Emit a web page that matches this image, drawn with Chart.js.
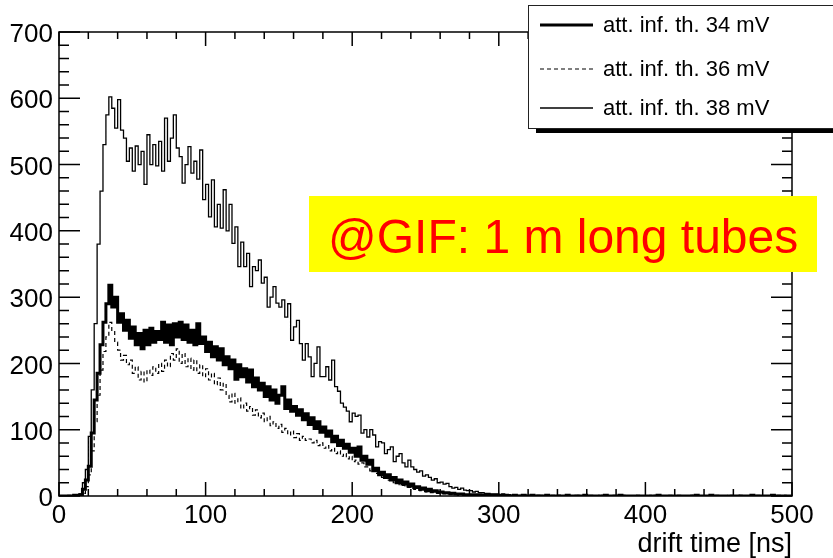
<!DOCTYPE html>
<html>
<head>
<meta charset="utf-8">
<script src="https://cdn.jsdelivr.net/npm/chart.js@4.4.1/dist/chart.umd.min.js"></script>
<style>
  body { margin: 0; background: #fff; }
  canvas { display: block; }
</style>
</head>
<body>
<canvas id="js-driftChart" width="833" height="558"></canvas>
<script>
// drift time histograms, 2 ns bins from 0 to 500 ns
const BIN_WIDTH = 2;
const X_TICKS = [0, 100, 200, 300, 400, 500];
const Y_TICKS = [0, 100, 200, 300, 400, 500, 600, 700];
const MINOR_STEP = 20;

const labels = ["att. inf. th. 34 mV", "att. inf. th. 36 mV", "att. inf. th. 38 mV"];

const counts34 = [
  0,0,0,0,0,1,1,2,10,24,
  45,95,145,185,228,262,290,318,285,300,
  262,275,250,265,238,255,228,245,222,250,
  228,253,232,248,236,262,232,258,228,260,
  240,262,236,258,232,250,228,260,230,240,
  218,232,210,225,205,222,198,210,192,205,
  176,198,180,192,172,190,165,178,160,170,
  150,165,145,160,140,152,165,132,145,128,
  135,122,130,115,124,108,118,102,112,96,
  104,90,98,82,90,76,84,72,78,66,
  72,60,74,54,60,48,54,38,42,32,
  36,28,32,24,28,20,24,18,21,15,
  18,13,14,10,12,8,10,7,8,6,
  6,5,5,4,4,3,3,3,2,2,
  2,2,1,2,1,1,1,1,0,1,
  1,0,1,0,0,1,0,0,1,0,
  0,1,0,0,0,0,1,0,0,0,
  0,0,0,1,0,0,0,0,0,1,
  0,0,0,0,0,0,1,0,0,0,
  0,1,0,0,0,0,0,0,0,0,
  0,0,0,0,1,0,0,0,0,0,
  0,0,0,0,0,0,0,1,0,0,
  0,0,1,0,0,0,0,0,0,0,
  0,0,0,0,0,0,1,0,0,0,
  0,0,0,1,0,0,0,0,0,0
];

const counts36 = [
  0,0,0,0,0,0,1,1,4,14,
  32,68,112,152,190,218,240,262,250,232,
  220,205,212,198,205,185,195,175,188,172,
  190,182,195,185,200,188,205,195,215,205,
  222,200,215,195,208,190,205,185,198,180,
  192,175,185,168,178,160,170,152,142,155,
  140,148,132,140,128,135,122,130,118,125,
  112,120,106,112,102,108,96,102,92,98,
  88,94,84,90,84,86,80,84,76,80,
  72,76,68,72,64,68,60,64,56,60,
  52,54,48,50,44,44,38,40,34,34,
  28,30,24,25,20,20,17,16,13,13,
  11,10,9,8,7,6,5,5,4,4,
  3,3,3,2,2,2,1,2,1,1,
  1,1,0,1,1,0,0,1,0,0,
  0,1,0,0,1,0,0,0,1,0,
  0,0,0,1,0,0,0,0,0,0,
  1,0,0,0,0,0,0,1,0,0,
  0,0,0,0,1,0,0,0,0,0,
  0,0,0,0,0,0,1,0,0,0,
  0,1,0,0,0,0,0,0,0,0,
  0,0,0,0,0,1,0,0,0,0,
  0,0,0,0,0,0,0,0,1,0,
  0,0,1,0,0,0,0,0,0,0,
  0,0,0,0,0,0,0,1,0,0
];

const counts38 = [
  0,0,0,1,0,1,2,3,20,40,
  90,160,260,380,460,530,575,602,585,555,
  598,552,540,505,525,490,528,500,520,470,
  545,500,530,498,535,490,570,505,540,575,
  525,512,472,500,527,487,505,478,522,447,
  470,421,477,406,440,404,462,400,440,381,
  406,346,383,346,366,316,346,340,356,321,
  330,285,300,316,291,285,296,270,290,235,
  255,265,230,205,230,210,180,200,225,180,
  180,195,175,205,165,158,140,134,128,112,
  125,120,122,95,100,89,100,92,74,82,
  80,64,70,74,52,60,64,50,44,54,
  44,40,36,38,30,32,28,24,26,20,
  21,18,19,14,12,13,10,12,9,8,
  8,6,7,5,5,4,4,3,3,3,
  2,3,2,2,1,2,1,1,2,1,
  1,1,0,1,1,0,1,0,1,0,
  1,0,0,1,0,0,1,0,0,0,
  0,1,0,0,0,1,0,0,0,1,
  0,0,1,0,0,0,0,1,0,0,
  0,0,0,1,0,0,0,0,1,0,
  0,1,0,0,0,0,1,0,0,0,
  0,0,0,0,1,0,0,0,0,1,
  0,0,1,0,0,0,0,0,1,0,
  0,0,0,0,0,1,0,0,0,0
];

const FONT = "'Liberation Sans', Arial, Helvetica, sans-serif";

function toPoints(values) {
  var pts = values.map((v, i) => ({x: i * BIN_WIDTH, y: v}));
  pts.push({x: values.length * BIN_WIDTH, y: values[values.length - 1]});
  return pts;
}

// ROOT style frame with ticks pointing inwards
const rootFrame = {
  id: 'rootFrame',
  afterDraw(chart) {
    const ctx = chart.ctx;
    const a = chart.chartArea;
    const x = chart.scales.x;
    const y = chart.scales.y;
    ctx.save();
    ctx.strokeStyle = '#000';
    ctx.lineWidth = 1.5;
    ctx.strokeRect(a.left, a.top, a.right - a.left, a.bottom - a.top);
    ctx.beginPath();
    for (let t = x.min; t <= x.max; t += MINOR_STEP) {
      const px = x.getPixelForValue(t);
      const len = X_TICKS.includes(t) ? 14 : 7;
      ctx.moveTo(px, a.bottom); ctx.lineTo(px, a.bottom - len);
      ctx.moveTo(px, a.top); ctx.lineTo(px, a.top + len);
    }
    for (let v = y.min; v <= y.max; v += MINOR_STEP) {
      const py = y.getPixelForValue(v);
      const len = Y_TICKS.includes(v) ? 21 : 10;
      ctx.moveTo(a.left, py); ctx.lineTo(a.left + len, py);
      ctx.moveTo(a.right, py); ctx.lineTo(a.right - len, py);
    }
    ctx.stroke();

    // yellow label
    ctx.fillStyle = '#ffff00';
    ctx.fillRect(309, 196, 508, 76);
    ctx.fillStyle = '#ff0000';
    ctx.font = '48px ' + FONT;
    ctx.textAlign = 'left';
    ctx.textBaseline = 'alphabetic';
    ctx.fillText('@GIF: 1 m long tubes', 328, 253);

    // legend box with shadow
    ctx.fillStyle = '#000';
    ctx.fillRect(536, 128, 310, 5);
    ctx.fillStyle = '#fff';
    ctx.fillRect(528, 5, 320, 123);
    ctx.strokeStyle = '#222';
    ctx.lineWidth = 1;
    ctx.strokeRect(528.5, 5.5, 320, 123);
    const rows = [25, 69, 108];
    chart.data.datasets.forEach((ds, i) => {
      ctx.beginPath();
      ctx.lineWidth = ds.borderWidth;
      ctx.setLineDash(ds.borderDash || []);
      ctx.strokeStyle = '#000';
      ctx.moveTo(540, rows[i]);
      ctx.lineTo(593, rows[i]);
      ctx.stroke();
      ctx.setLineDash([]);
      ctx.fillStyle = '#000';
      ctx.font = '22px ' + FONT;
      ctx.textBaseline = 'middle';
      ctx.fillText(ds.label, 603, rows[i] + 1);
    });
    ctx.restore();
  }
};

const ctx = document.getElementById('js-driftChart');
const driftChart = new Chart(ctx, {
  type: 'line',
  data: {
    datasets: [
      {label: labels[0], data: toPoints(counts34), borderColor: '#000', borderWidth: 3, stepped: 'before', pointRadius: 0},
      {label: labels[1], data: toPoints(counts36), borderColor: '#000', borderWidth: 1.2, borderDash: [4, 3], stepped: 'before', pointRadius: 0},
      {label: labels[2], data: toPoints(counts38), borderColor: '#000', borderWidth: 1.3, stepped: 'before', pointRadius: 0}
    ]
  },
  options: {
    responsive: false,
    animation: false,
    layout: { padding: { top: 32, right: 41, left: 0, bottom: 0 } },
    plugins: {
      legend: { display: false },
      tooltip: { enabled: false }
    },
    scales: {
      x: {
        type: 'linear',
        min: 0,
        max: 500,
        afterFit: (scale) => { scale.height = 62; },
        afterBuildTicks: (scale) => { scale.ticks = X_TICKS.map(v => ({value: v})); },
        grid: { display: false, drawTicks: false },
        border: { display: false },
        ticks: {
          color: '#000',
          padding: 4,
          autoSkip: false,
          maxRotation: 0,
          font: { family: FONT, size: 26 }
        },
        title: {
          display: true,
          text: 'drift time [ns]',
          align: 'end',
          color: '#000',
          padding: { top: 0, bottom: 0 },
          font: { family: FONT, size: 27, lineHeight: 1 }
        }
      },
      y: {
        min: 0,
        max: 700,
        afterFit: (scale) => { scale.width = 59; },
        afterBuildTicks: (scale) => { scale.ticks = Y_TICKS.map(v => ({value: v})); },
        grid: { display: false, drawTicks: false },
        border: { display: false },
        ticks: {
          color: '#000',
          padding: 6,
          labelOffset: 3,
          autoSkip: false,
          font: { family: FONT, size: 26 }
        }
      }
    }
  },
  plugins: [rootFrame]
});
</script>
</body>
</html>
